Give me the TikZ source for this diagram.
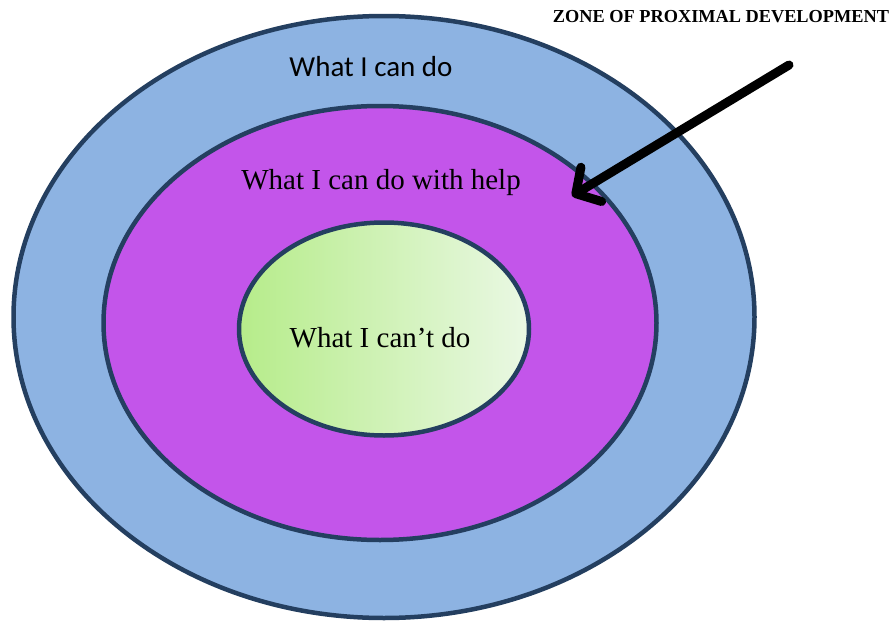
\documentclass[tikz,border=0pt]{standalone}
\usepackage{fontspec}
\setmainfont{Liberation Serif}
\newfontfamily\calibrifont{Carlito}
\usetikzlibrary{arrows.meta,shapes.geometric}
\definecolor{ringblue}{HTML}{8DB3E2}
\definecolor{ringpurple}{HTML}{C355EA}
\definecolor{rimnavy}{HTML}{243F60}
\definecolor{coregreenL}{HTML}{B6EC8A}
\definecolor{coregreenR}{HTML}{EAF8E4}
\tikzset{
  ring/.style={ellipse, draw=rimnavy, line width=4.5pt, inner sep=0pt},
  pointer/.style={line width=9pt, line cap=round, -{Straight Barb[round,length=18pt,width=40pt]}},
}
\begin{document}
\begin{tikzpicture}[x=1pt,y=-1pt]
  \useasboundingbox (0,0) rectangle (895,621);
  % three nested zones
  \node[ring, fill=ringblue, minimum width=741pt, minimum height=602pt] (outer) at (384,317) {};
  \node[ring, fill=ringpurple, minimum width=553pt, minimum height=434pt] (middle) at (380,323) {};
  \node[ring, left color=coregreenL, right color=coregreenR, minimum width=290pt, minimum height=213pt] (inner) at (384,329) {};
  % zone labels
  \node (canlbl) at (371,67) {\calibrifont\fontsize{29}{34}\selectfont What I can do};
  \node (helplbl) at (381,183) {\fontsize{29}{34}\selectfont What I can do with help};
  \node (cantlbl) at (380,338) {\fontsize{29}{34}\selectfont What I can’t do};
  % heading and pointer
  \node (zpd) at (721,17) {\bfseries\fontsize{18.3}{22}\selectfont ZONE OF PROXIMAL DEVELOPMENT};
  \coordinate (ptrstart) at (789,65);
  \coordinate (ptrtip) at (572,196);
  \draw[pointer] (ptrstart) -- (ptrtip);
\end{tikzpicture}
\end{document}
